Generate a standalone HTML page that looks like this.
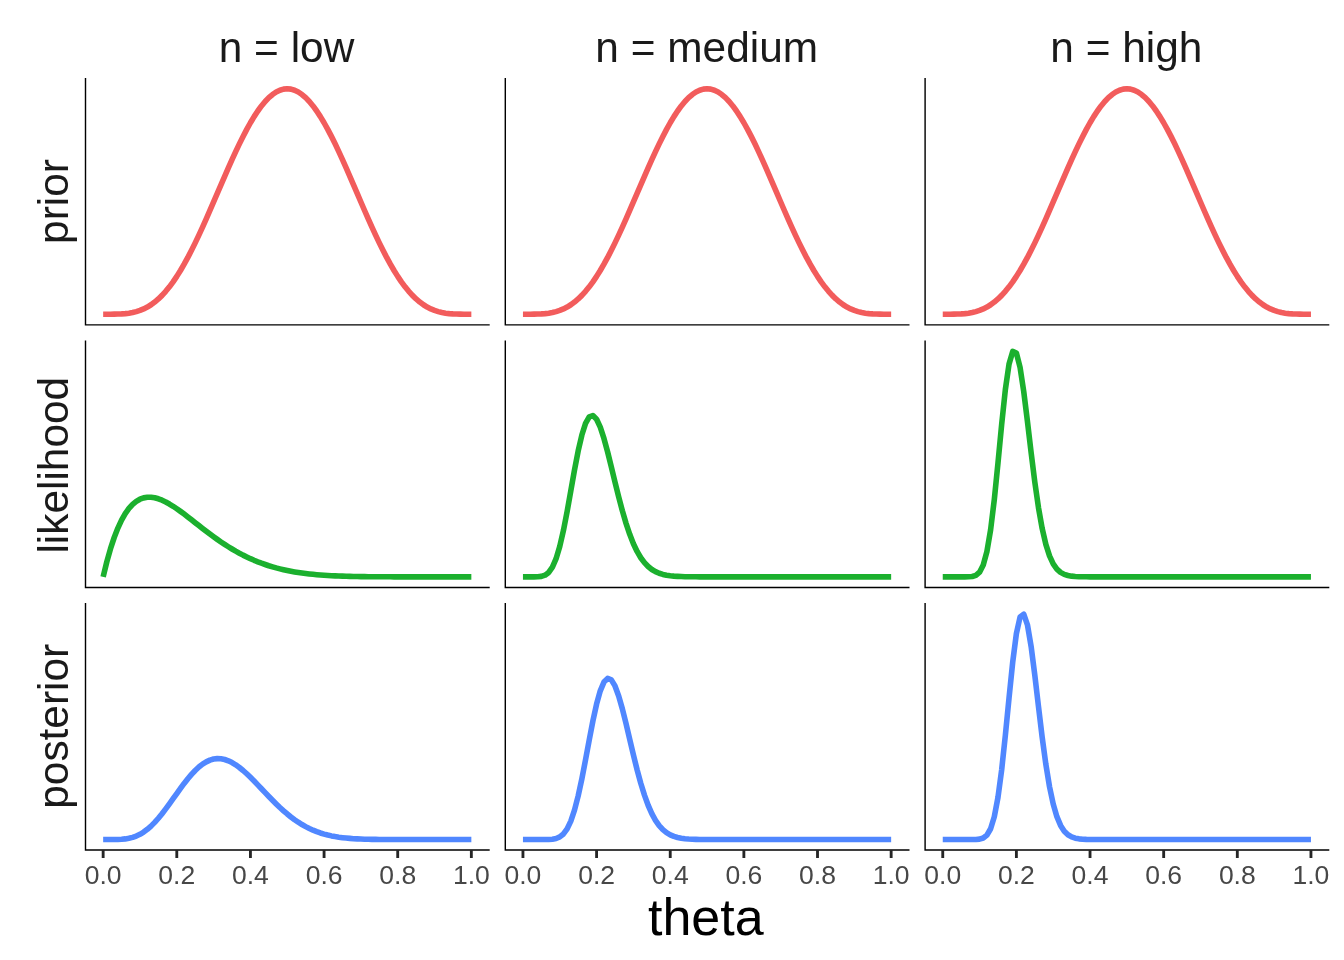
<!DOCTYPE html>
<html><head><meta charset="utf-8"><title>theta</title>
<style>
html,body{margin:0;padding:0;background:#fff;}
body{width:1344px;height:960px;overflow:hidden;}
svg{display:block;will-change:transform;}
text{font-family:"Liberation Sans",sans-serif;}
</style></head><body>
<svg width="1344" height="960" viewBox="0 0 1344 960">
<polyline fill="none" stroke="#F25C5C" stroke-width="5.6" stroke-linejoin="round" stroke-linecap="butt" points="103.15,314.20 106.83,314.20 110.51,314.19 114.20,314.16 117.88,314.07 121.56,313.91 125.24,313.62 128.92,313.16 132.61,312.51 136.29,311.60 139.97,310.41 143.65,308.90 147.33,307.02 151.02,304.76 154.70,302.07 158.38,298.95 162.06,295.37 165.74,291.33 169.43,286.81 173.11,281.83 176.79,276.38 180.47,270.49 184.15,264.17 187.84,257.44 191.52,250.33 195.20,242.88 198.88,235.13 202.56,227.12 206.25,218.89 209.93,210.49 213.61,201.98 217.29,193.41 220.97,184.83 224.66,176.30 228.34,167.89 232.02,159.63 235.70,151.60 239.38,143.84 243.07,136.42 246.75,129.37 250.43,122.76 254.11,116.62 257.79,111.01 261.48,105.96 265.16,101.51 268.84,97.68 272.52,94.52 276.20,92.03 279.89,90.24 283.57,89.16 287.25,88.80 290.93,89.16 294.61,90.24 298.30,92.03 301.98,94.52 305.66,97.68 309.34,101.51 313.02,105.96 316.71,111.01 320.39,116.62 324.07,122.76 327.75,129.37 331.43,136.42 335.12,143.84 338.80,151.60 342.48,159.63 346.16,167.89 349.84,176.30 353.53,184.83 357.21,193.41 360.89,201.98 364.57,210.49 368.25,218.89 371.94,227.12 375.62,235.13 379.30,242.88 382.98,250.33 386.66,257.44 390.35,264.17 394.03,270.49 397.71,276.38 401.39,281.83 405.07,286.81 408.76,291.33 412.44,295.37 416.12,298.95 419.80,302.07 423.48,304.76 427.17,307.02 430.85,308.90 434.53,310.41 438.21,311.60 441.89,312.51 445.58,313.16 449.26,313.62 452.94,313.91 456.62,314.07 460.30,314.16 463.99,314.19 467.67,314.20 471.35,314.20"/>
<polyline fill="none" stroke="#F25C5C" stroke-width="5.6" stroke-linejoin="round" stroke-linecap="butt" points="522.95,314.20 526.63,314.20 530.31,314.19 534.00,314.16 537.68,314.07 541.36,313.91 545.04,313.62 548.72,313.16 552.41,312.51 556.09,311.60 559.77,310.41 563.45,308.90 567.13,307.02 570.82,304.76 574.50,302.07 578.18,298.95 581.86,295.37 585.54,291.33 589.23,286.81 592.91,281.83 596.59,276.38 600.27,270.49 603.95,264.17 607.64,257.44 611.32,250.33 615.00,242.88 618.68,235.13 622.36,227.12 626.05,218.89 629.73,210.49 633.41,201.98 637.09,193.41 640.77,184.83 644.46,176.30 648.14,167.89 651.82,159.63 655.50,151.60 659.18,143.84 662.87,136.42 666.55,129.37 670.23,122.76 673.91,116.62 677.59,111.01 681.28,105.96 684.96,101.51 688.64,97.68 692.32,94.52 696.00,92.03 699.69,90.24 703.37,89.16 707.05,88.80 710.73,89.16 714.41,90.24 718.10,92.03 721.78,94.52 725.46,97.68 729.14,101.51 732.82,105.96 736.51,111.01 740.19,116.62 743.87,122.76 747.55,129.37 751.23,136.42 754.92,143.84 758.60,151.60 762.28,159.63 765.96,167.89 769.64,176.30 773.33,184.83 777.01,193.41 780.69,201.98 784.37,210.49 788.05,218.89 791.74,227.12 795.42,235.13 799.10,242.88 802.78,250.33 806.46,257.44 810.15,264.17 813.83,270.49 817.51,276.38 821.19,281.83 824.87,286.81 828.56,291.33 832.24,295.37 835.92,298.95 839.60,302.07 843.28,304.76 846.97,307.02 850.65,308.90 854.33,310.41 858.01,311.60 861.69,312.51 865.38,313.16 869.06,313.62 872.74,313.91 876.42,314.07 880.10,314.16 883.79,314.19 887.47,314.20 891.15,314.20"/>
<polyline fill="none" stroke="#F25C5C" stroke-width="5.6" stroke-linejoin="round" stroke-linecap="butt" points="942.75,314.20 946.43,314.20 950.11,314.19 953.80,314.16 957.48,314.07 961.16,313.91 964.84,313.62 968.52,313.16 972.21,312.51 975.89,311.60 979.57,310.41 983.25,308.90 986.93,307.02 990.62,304.76 994.30,302.07 997.98,298.95 1001.66,295.37 1005.34,291.33 1009.03,286.81 1012.71,281.83 1016.39,276.38 1020.07,270.49 1023.75,264.17 1027.44,257.44 1031.12,250.33 1034.80,242.88 1038.48,235.13 1042.16,227.12 1045.85,218.89 1049.53,210.49 1053.21,201.98 1056.89,193.41 1060.57,184.83 1064.26,176.30 1067.94,167.89 1071.62,159.63 1075.30,151.60 1078.98,143.84 1082.67,136.42 1086.35,129.37 1090.03,122.76 1093.71,116.62 1097.39,111.01 1101.08,105.96 1104.76,101.51 1108.44,97.68 1112.12,94.52 1115.80,92.03 1119.49,90.24 1123.17,89.16 1126.85,88.80 1130.53,89.16 1134.21,90.24 1137.90,92.03 1141.58,94.52 1145.26,97.68 1148.94,101.51 1152.62,105.96 1156.31,111.01 1159.99,116.62 1163.67,122.76 1167.35,129.37 1171.03,136.42 1174.72,143.84 1178.40,151.60 1182.08,159.63 1185.76,167.89 1189.44,176.30 1193.13,184.83 1196.81,193.41 1200.49,201.98 1204.17,210.49 1207.85,218.89 1211.54,227.12 1215.22,235.13 1218.90,242.88 1222.58,250.33 1226.26,257.44 1229.95,264.17 1233.63,270.49 1237.31,276.38 1240.99,281.83 1244.67,286.81 1248.36,291.33 1252.04,295.37 1255.72,298.95 1259.40,302.07 1263.08,304.76 1266.77,307.02 1270.45,308.90 1274.13,310.41 1277.81,311.60 1281.49,312.51 1285.18,313.16 1288.86,313.62 1292.54,313.91 1296.22,314.07 1299.90,314.16 1303.59,314.19 1307.27,314.20 1310.95,314.20"/>
<polyline fill="none" stroke="#1BB02E" stroke-width="5.6" stroke-linejoin="round" stroke-linecap="butt" points="103.15,576.85 106.83,561.72 110.51,548.67 114.20,537.50 117.88,528.06 121.56,520.17 125.24,513.69 128.92,508.48 132.61,504.41 136.29,501.36 139.97,499.21 143.65,497.87 147.33,497.25 151.02,497.24 154.70,497.78 158.38,498.79 162.06,500.21 165.74,501.97 169.43,504.01 173.11,506.29 176.79,508.77 180.47,511.39 184.15,514.12 187.84,516.93 191.52,519.80 195.20,522.68 198.88,525.57 202.56,528.43 206.25,531.26 209.93,534.04 213.61,536.75 217.29,539.38 220.97,541.93 224.66,544.38 228.34,546.74 232.02,549.00 235.70,551.15 239.38,553.19 243.07,555.13 246.75,556.95 250.43,558.67 254.11,560.29 257.79,561.80 261.48,563.21 265.16,564.51 268.84,565.73 272.52,566.85 276.20,567.89 279.89,568.84 283.57,569.71 287.25,570.51 290.93,571.24 294.61,571.89 298.30,572.49 301.98,573.03 305.66,573.51 309.34,573.95 313.02,574.34 316.71,574.68 320.39,574.98 324.07,575.25 327.75,575.49 331.43,575.70 335.12,575.88 338.80,576.04 342.48,576.17 346.16,576.29 349.84,576.39 353.53,576.47 357.21,576.54 360.89,576.60 364.57,576.65 368.25,576.69 371.94,576.73 375.62,576.75 379.30,576.78 382.98,576.79 386.66,576.81 390.35,576.82 394.03,576.83 397.71,576.83 401.39,576.84 405.07,576.84 408.76,576.84 412.44,576.85 416.12,576.85 419.80,576.85 423.48,576.85 427.17,576.85 430.85,576.85 434.53,576.85 438.21,576.85 441.89,576.85 445.58,576.85 449.26,576.85 452.94,576.85 456.62,576.85 460.30,576.85 463.99,576.85 467.67,576.85 471.35,576.85"/>
<polyline fill="none" stroke="#1BB02E" stroke-width="5.6" stroke-linejoin="round" stroke-linecap="butt" points="522.95,576.85 526.63,576.85 530.31,576.85 534.00,576.84 537.68,576.75 541.36,576.36 545.04,575.18 548.72,572.44 552.41,567.23 556.09,558.71 559.77,546.42 563.45,530.45 567.13,511.50 570.82,490.84 574.50,470.09 578.18,450.97 581.86,435.02 585.54,423.43 589.23,416.90 592.91,415.60 596.59,419.24 600.27,427.15 603.95,438.40 607.64,451.97 611.32,466.84 615.00,482.08 618.68,496.94 622.36,510.83 626.05,523.37 629.73,534.34 633.41,543.68 637.09,551.43 640.77,557.71 644.46,562.68 648.14,566.54 651.82,569.47 655.50,571.66 659.18,573.25 662.87,574.40 666.55,575.21 670.23,575.77 673.91,576.15 677.59,576.40 681.28,576.57 684.96,576.68 688.64,576.75 692.32,576.79 696.00,576.81 699.69,576.83 703.37,576.84 707.05,576.84 710.73,576.85 714.41,576.85 718.10,576.85 721.78,576.85 725.46,576.85 729.14,576.85 732.82,576.85 736.51,576.85 740.19,576.85 743.87,576.85 747.55,576.85 751.23,576.85 754.92,576.85 758.60,576.85 762.28,576.85 765.96,576.85 769.64,576.85 773.33,576.85 777.01,576.85 780.69,576.85 784.37,576.85 788.05,576.85 791.74,576.85 795.42,576.85 799.10,576.85 802.78,576.85 806.46,576.85 810.15,576.85 813.83,576.85 817.51,576.85 821.19,576.85 824.87,576.85 828.56,576.85 832.24,576.85 835.92,576.85 839.60,576.85 843.28,576.85 846.97,576.85 850.65,576.85 854.33,576.85 858.01,576.85 861.69,576.85 865.38,576.85 869.06,576.85 872.74,576.85 876.42,576.85 880.10,576.85 883.79,576.85 887.47,576.85 891.15,576.85"/>
<polyline fill="none" stroke="#1BB02E" stroke-width="5.6" stroke-linejoin="round" stroke-linecap="butt" points="942.75,576.85 946.43,576.85 950.11,576.85 953.80,576.85 957.48,576.85 961.16,576.85 964.84,576.84 968.52,576.78 972.21,576.47 975.89,575.33 979.57,572.16 983.25,564.98 986.93,551.45 990.62,529.72 994.30,499.56 997.98,463.05 1001.66,424.56 1005.34,389.77 1009.03,364.14 1012.71,351.45 1016.39,352.98 1020.07,367.43 1023.75,391.57 1027.44,421.28 1031.12,452.51 1034.80,482.00 1038.48,507.65 1042.16,528.46 1045.85,544.37 1049.53,555.89 1053.21,563.84 1056.89,569.06 1060.57,572.36 1064.26,574.35 1067.94,575.51 1071.62,576.15 1075.30,576.50 1078.98,576.68 1082.67,576.77 1086.35,576.81 1090.03,576.83 1093.71,576.84 1097.39,576.85 1101.08,576.85 1104.76,576.85 1108.44,576.85 1112.12,576.85 1115.80,576.85 1119.49,576.85 1123.17,576.85 1126.85,576.85 1130.53,576.85 1134.21,576.85 1137.90,576.85 1141.58,576.85 1145.26,576.85 1148.94,576.85 1152.62,576.85 1156.31,576.85 1159.99,576.85 1163.67,576.85 1167.35,576.85 1171.03,576.85 1174.72,576.85 1178.40,576.85 1182.08,576.85 1185.76,576.85 1189.44,576.85 1193.13,576.85 1196.81,576.85 1200.49,576.85 1204.17,576.85 1207.85,576.85 1211.54,576.85 1215.22,576.85 1218.90,576.85 1222.58,576.85 1226.26,576.85 1229.95,576.85 1233.63,576.85 1237.31,576.85 1240.99,576.85 1244.67,576.85 1248.36,576.85 1252.04,576.85 1255.72,576.85 1259.40,576.85 1263.08,576.85 1266.77,576.85 1270.45,576.85 1274.13,576.85 1277.81,576.85 1281.49,576.85 1285.18,576.85 1288.86,576.85 1292.54,576.85 1296.22,576.85 1299.90,576.85 1303.59,576.85 1307.27,576.85 1310.95,576.85"/>
<polyline fill="none" stroke="#5087FF" stroke-width="5.6" stroke-linejoin="round" stroke-linecap="butt" points="103.15,839.55 106.83,839.55 110.51,839.55 114.20,839.52 117.88,839.44 121.56,839.25 125.24,838.89 128.92,838.28 132.61,837.36 136.29,836.04 139.97,834.29 143.65,832.06 147.33,829.33 151.02,826.11 154.70,822.40 158.38,818.26 162.06,813.74 165.74,808.92 169.43,803.88 173.11,798.70 176.79,793.51 180.47,788.38 184.15,783.42 187.84,778.73 191.52,774.38 195.20,770.46 198.88,767.03 202.56,764.14 206.25,761.84 209.93,760.14 213.61,759.06 217.29,758.61 220.97,758.76 224.66,759.49 228.34,760.77 232.02,762.56 235.70,764.81 239.38,767.47 243.07,770.48 246.75,773.79 250.43,777.32 254.11,781.03 257.79,784.85 261.48,788.73 265.16,792.63 268.84,796.49 272.52,800.27 276.20,803.94 279.89,807.47 283.57,810.82 287.25,813.99 290.93,816.95 294.61,819.70 298.30,822.23 301.98,824.54 305.66,826.63 309.34,828.51 313.02,830.18 316.71,831.66 320.39,832.96 324.07,834.09 327.75,835.06 331.43,835.89 335.12,836.59 338.80,837.18 342.48,837.67 346.16,838.08 349.84,838.41 353.53,838.67 357.21,838.88 360.89,839.05 364.57,839.18 368.25,839.28 371.94,839.36 375.62,839.41 379.30,839.46 382.98,839.49 386.66,839.51 390.35,839.52 394.03,839.53 397.71,839.54 401.39,839.54 405.07,839.55 408.76,839.55 412.44,839.55 416.12,839.55 419.80,839.55 423.48,839.55 427.17,839.55 430.85,839.55 434.53,839.55 438.21,839.55 441.89,839.55 445.58,839.55 449.26,839.55 452.94,839.55 456.62,839.55 460.30,839.55 463.99,839.55 467.67,839.55 471.35,839.55"/>
<polyline fill="none" stroke="#5087FF" stroke-width="5.6" stroke-linejoin="round" stroke-linecap="butt" points="522.95,839.55 526.63,839.55 530.31,839.55 534.00,839.55 537.68,839.55 541.36,839.55 545.04,839.53 548.72,839.45 552.41,839.18 556.09,838.48 559.77,836.93 563.45,833.96 567.13,828.89 570.82,821.09 574.50,810.12 578.18,795.92 581.86,778.85 585.54,759.78 589.23,739.97 592.91,720.90 596.59,704.07 600.27,690.81 603.95,682.09 607.64,678.42 611.32,679.83 615.00,685.92 618.68,695.92 622.36,708.86 626.05,723.68 629.73,739.34 633.41,754.94 637.09,769.75 640.77,783.26 644.46,795.14 648.14,805.25 651.82,813.62 655.50,820.35 659.18,825.62 662.87,829.65 666.55,832.65 670.23,834.84 673.91,836.40 677.59,837.48 681.28,838.22 684.96,838.71 688.64,839.03 692.32,839.24 696.00,839.37 699.69,839.44 703.37,839.49 707.05,839.52 710.73,839.53 714.41,839.54 718.10,839.54 721.78,839.55 725.46,839.55 729.14,839.55 732.82,839.55 736.51,839.55 740.19,839.55 743.87,839.55 747.55,839.55 751.23,839.55 754.92,839.55 758.60,839.55 762.28,839.55 765.96,839.55 769.64,839.55 773.33,839.55 777.01,839.55 780.69,839.55 784.37,839.55 788.05,839.55 791.74,839.55 795.42,839.55 799.10,839.55 802.78,839.55 806.46,839.55 810.15,839.55 813.83,839.55 817.51,839.55 821.19,839.55 824.87,839.55 828.56,839.55 832.24,839.55 835.92,839.55 839.60,839.55 843.28,839.55 846.97,839.55 850.65,839.55 854.33,839.55 858.01,839.55 861.69,839.55 865.38,839.55 869.06,839.55 872.74,839.55 876.42,839.55 880.10,839.55 883.79,839.55 887.47,839.55 891.15,839.55"/>
<polyline fill="none" stroke="#5087FF" stroke-width="5.6" stroke-linejoin="round" stroke-linecap="butt" points="942.75,839.55 946.43,839.55 950.11,839.55 953.80,839.55 957.48,839.55 961.16,839.55 964.84,839.55 968.52,839.55 972.21,839.53 975.89,839.45 979.57,839.12 983.25,838.02 986.93,835.12 990.62,828.73 994.30,816.76 997.98,797.36 1001.66,769.84 1005.34,735.51 1009.03,697.91 1012.71,662.14 1016.39,633.71 1020.07,616.98 1023.75,614.15 1027.44,624.84 1031.12,646.46 1034.80,675.08 1038.48,706.50 1042.16,737.09 1045.85,764.28 1049.53,786.71 1053.21,804.04 1056.89,816.68 1060.57,825.42 1064.26,831.17 1067.94,834.77 1071.62,836.93 1075.30,838.17 1078.98,838.85 1082.67,839.21 1086.35,839.39 1090.03,839.48 1093.71,839.52 1097.39,839.54 1101.08,839.54 1104.76,839.55 1108.44,839.55 1112.12,839.55 1115.80,839.55 1119.49,839.55 1123.17,839.55 1126.85,839.55 1130.53,839.55 1134.21,839.55 1137.90,839.55 1141.58,839.55 1145.26,839.55 1148.94,839.55 1152.62,839.55 1156.31,839.55 1159.99,839.55 1163.67,839.55 1167.35,839.55 1171.03,839.55 1174.72,839.55 1178.40,839.55 1182.08,839.55 1185.76,839.55 1189.44,839.55 1193.13,839.55 1196.81,839.55 1200.49,839.55 1204.17,839.55 1207.85,839.55 1211.54,839.55 1215.22,839.55 1218.90,839.55 1222.58,839.55 1226.26,839.55 1229.95,839.55 1233.63,839.55 1237.31,839.55 1240.99,839.55 1244.67,839.55 1248.36,839.55 1252.04,839.55 1255.72,839.55 1259.40,839.55 1263.08,839.55 1266.77,839.55 1270.45,839.55 1274.13,839.55 1277.81,839.55 1281.49,839.55 1285.18,839.55 1288.86,839.55 1292.54,839.55 1296.22,839.55 1299.90,839.55 1303.59,839.55 1307.27,839.55 1310.95,839.55"/>
<polyline fill="none" stroke="#000" stroke-width="1.42" stroke-linejoin="miter" stroke-linecap="butt" points="85.50,77.95 85.50,324.85 489.70,324.85"/>
<polyline fill="none" stroke="#000" stroke-width="1.42" stroke-linejoin="miter" stroke-linecap="butt" points="505.30,77.95 505.30,324.85 909.50,324.85"/>
<polyline fill="none" stroke="#000" stroke-width="1.42" stroke-linejoin="miter" stroke-linecap="butt" points="925.10,77.95 925.10,324.85 1329.30,324.85"/>
<polyline fill="none" stroke="#000" stroke-width="1.42" stroke-linejoin="miter" stroke-linecap="butt" points="85.50,340.40 85.50,587.47 489.70,587.47"/>
<polyline fill="none" stroke="#000" stroke-width="1.42" stroke-linejoin="miter" stroke-linecap="butt" points="505.30,340.40 505.30,587.47 909.50,587.47"/>
<polyline fill="none" stroke="#000" stroke-width="1.42" stroke-linejoin="miter" stroke-linecap="butt" points="925.10,340.40 925.10,587.47 1329.30,587.47"/>
<polyline fill="none" stroke="#000" stroke-width="1.42" stroke-linejoin="miter" stroke-linecap="butt" points="85.50,603.00 85.50,850.00 489.70,850.00"/>
<polyline fill="none" stroke="#000" stroke-width="1.42" stroke-linejoin="miter" stroke-linecap="butt" points="505.30,603.00 505.30,850.00 909.50,850.00"/>
<polyline fill="none" stroke="#000" stroke-width="1.42" stroke-linejoin="miter" stroke-linecap="butt" points="925.10,603.00 925.10,850.00 1329.30,850.00"/>
<line x1="103.15" x2="103.15" y1="850.00" y2="858.0" stroke="#262626" stroke-width="2.85"/>
<text x="103.15" y="883.7" font-size="26.5" fill="#474747" text-anchor="middle">0.0</text>
<line x1="176.79" x2="176.79" y1="850.00" y2="858.0" stroke="#262626" stroke-width="2.85"/>
<text x="176.79" y="883.7" font-size="26.5" fill="#474747" text-anchor="middle">0.2</text>
<line x1="250.43" x2="250.43" y1="850.00" y2="858.0" stroke="#262626" stroke-width="2.85"/>
<text x="250.43" y="883.7" font-size="26.5" fill="#474747" text-anchor="middle">0.4</text>
<line x1="324.07" x2="324.07" y1="850.00" y2="858.0" stroke="#262626" stroke-width="2.85"/>
<text x="324.07" y="883.7" font-size="26.5" fill="#474747" text-anchor="middle">0.6</text>
<line x1="397.71" x2="397.71" y1="850.00" y2="858.0" stroke="#262626" stroke-width="2.85"/>
<text x="397.71" y="883.7" font-size="26.5" fill="#474747" text-anchor="middle">0.8</text>
<line x1="471.35" x2="471.35" y1="850.00" y2="858.0" stroke="#262626" stroke-width="2.85"/>
<text x="471.35" y="883.7" font-size="26.5" fill="#474747" text-anchor="middle">1.0</text>
<line x1="522.95" x2="522.95" y1="850.00" y2="858.0" stroke="#262626" stroke-width="2.85"/>
<text x="522.95" y="883.7" font-size="26.5" fill="#474747" text-anchor="middle">0.0</text>
<line x1="596.59" x2="596.59" y1="850.00" y2="858.0" stroke="#262626" stroke-width="2.85"/>
<text x="596.59" y="883.7" font-size="26.5" fill="#474747" text-anchor="middle">0.2</text>
<line x1="670.23" x2="670.23" y1="850.00" y2="858.0" stroke="#262626" stroke-width="2.85"/>
<text x="670.23" y="883.7" font-size="26.5" fill="#474747" text-anchor="middle">0.4</text>
<line x1="743.87" x2="743.87" y1="850.00" y2="858.0" stroke="#262626" stroke-width="2.85"/>
<text x="743.87" y="883.7" font-size="26.5" fill="#474747" text-anchor="middle">0.6</text>
<line x1="817.51" x2="817.51" y1="850.00" y2="858.0" stroke="#262626" stroke-width="2.85"/>
<text x="817.51" y="883.7" font-size="26.5" fill="#474747" text-anchor="middle">0.8</text>
<line x1="891.15" x2="891.15" y1="850.00" y2="858.0" stroke="#262626" stroke-width="2.85"/>
<text x="891.15" y="883.7" font-size="26.5" fill="#474747" text-anchor="middle">1.0</text>
<line x1="942.75" x2="942.75" y1="850.00" y2="858.0" stroke="#262626" stroke-width="2.85"/>
<text x="942.75" y="883.7" font-size="26.5" fill="#474747" text-anchor="middle">0.0</text>
<line x1="1016.39" x2="1016.39" y1="850.00" y2="858.0" stroke="#262626" stroke-width="2.85"/>
<text x="1016.39" y="883.7" font-size="26.5" fill="#474747" text-anchor="middle">0.2</text>
<line x1="1090.03" x2="1090.03" y1="850.00" y2="858.0" stroke="#262626" stroke-width="2.85"/>
<text x="1090.03" y="883.7" font-size="26.5" fill="#474747" text-anchor="middle">0.4</text>
<line x1="1163.67" x2="1163.67" y1="850.00" y2="858.0" stroke="#262626" stroke-width="2.85"/>
<text x="1163.67" y="883.7" font-size="26.5" fill="#474747" text-anchor="middle">0.6</text>
<line x1="1237.31" x2="1237.31" y1="850.00" y2="858.0" stroke="#262626" stroke-width="2.85"/>
<text x="1237.31" y="883.7" font-size="26.5" fill="#474747" text-anchor="middle">0.8</text>
<line x1="1310.95" x2="1310.95" y1="850.00" y2="858.0" stroke="#262626" stroke-width="2.85"/>
<text x="1310.95" y="883.7" font-size="26.5" fill="#474747" text-anchor="middle">1.0</text>
<text x="286.50" y="61.8" font-size="42.4" fill="#1A1A1A" text-anchor="middle">n = low</text>
<text x="706.70" y="61.8" font-size="42.4" fill="#1A1A1A" text-anchor="middle">n = medium</text>
<text x="1126.30" y="61.8" font-size="42.4" fill="#1A1A1A" text-anchor="middle">n = high</text>
<text transform="translate(67.9,201.50) rotate(-90)" font-size="42.4" fill="#1A1A1A" text-anchor="middle">prior</text>
<text transform="translate(67.9,465.20) rotate(-90)" font-size="42.4" fill="#1A1A1A" text-anchor="middle">likelihood</text>
<text transform="translate(67.9,726.30) rotate(-90)" font-size="42.4" fill="#1A1A1A" text-anchor="middle">posterior</text>
<text x="705.8" y="934.6" font-size="52" fill="#000" text-anchor="middle">theta</text>
</svg></body></html>
